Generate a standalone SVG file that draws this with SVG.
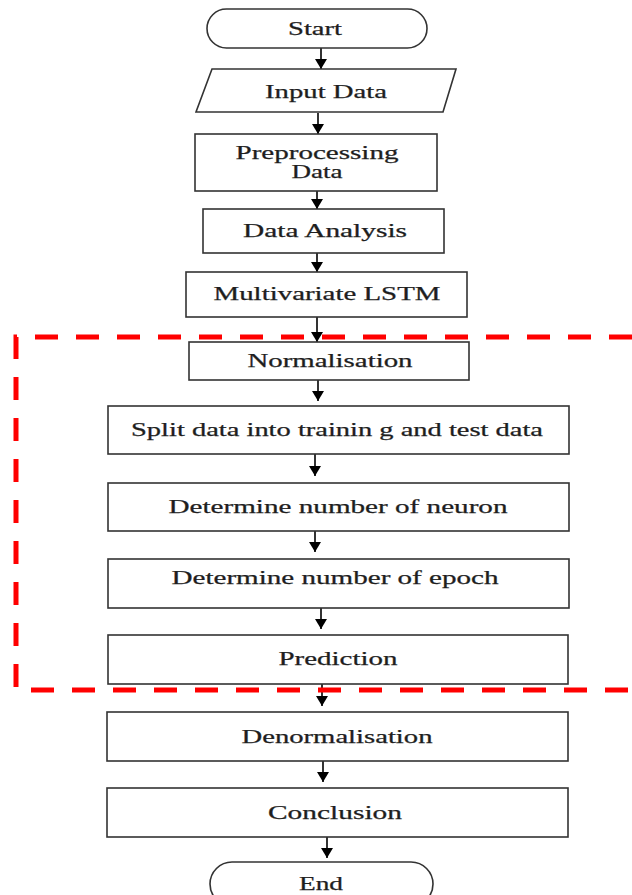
<svg xmlns="http://www.w3.org/2000/svg" width="632" height="895" viewBox="0 0 632 895">
<style>
.box{fill:#fff;stroke:#333;stroke-width:1.6}
.t{font-family:"Liberation Serif","Times New Roman",serif;font-size:18px;fill:#1e1e1e;stroke:#1e1e1e;stroke-width:0.25;text-anchor:middle}
.c{stroke:#000;stroke-width:1.6;fill:none;marker-end:url(#ah)}
.red{fill:none;stroke:#ff0000;stroke-width:5;stroke-dasharray:23 18}
</style>
<defs>
<marker id="ah" markerUnits="userSpaceOnUse" markerWidth="10" markerHeight="12" refX="10" refY="6" orient="auto">
<path d="M0,0 L10,6 L0,12 z" fill="#000"/>
</marker>
</defs>
<rect width="632" height="895" fill="#fff"/>
<g id="connectors">
<line class="c" x1="321" y1="48" x2="321" y2="69"/>
<line class="c" x1="318" y1="113" x2="318" y2="134"/>
<line class="c" x1="317" y1="191" x2="317" y2="209"/>
<line class="c" x1="317" y1="253" x2="317" y2="272"/>
<line class="c" x1="317" y1="317" x2="317" y2="342"/>
<line class="c" x1="318" y1="380" x2="318" y2="401"/>
<line class="c" x1="315" y1="454" x2="315" y2="476"/>
<line class="c" x1="315" y1="531" x2="315" y2="552"/>
<line class="c" x1="321" y1="608" x2="321" y2="629"/>
<line class="c" x1="322" y1="684" x2="322" y2="706"/>
<line class="c" x1="323" y1="761" x2="323" y2="782"/>
<line class="c" x1="327" y1="837" x2="327" y2="858"/>
</g>
<g id="start"><rect class="box" x="207" y="9" width="220" height="39" rx="19.5"/><text class="t" x="315" y="35" textLength="54" lengthAdjust="spacingAndGlyphs">Start</text></g>
<g id="input"><polygon class="box" points="212,69 456,69 443,112 196,112"/><text class="t" x="326" y="98" textLength="122" lengthAdjust="spacingAndGlyphs">Input Data</text></g>
<g id="preprocessing"><rect class="box" x="195" y="134" width="242" height="57"/><text class="t" x="317" y="159" textLength="163" lengthAdjust="spacingAndGlyphs">Preprocessing</text><text class="t" x="317" y="178" textLength="51" lengthAdjust="spacingAndGlyphs">Data</text></g>
<g id="analysis"><rect class="box" x="203" y="209" width="241" height="44"/><text class="t" x="325" y="237" textLength="164" lengthAdjust="spacingAndGlyphs">Data Analysis</text></g>
<g id="lstm"><rect class="box" x="186" y="272" width="281" height="45"/><text class="t" x="327" y="300" textLength="227" lengthAdjust="spacingAndGlyphs">Multivariate LSTM</text></g>
<g id="normalisation"><rect class="box" x="189" y="342" width="280" height="38"/><text class="t" x="330" y="367" textLength="165" lengthAdjust="spacingAndGlyphs">Normalisation</text></g>
<g id="split"><rect class="box" x="108" y="406" width="461" height="48"/><text class="t" x="337" y="436" textLength="412" lengthAdjust="spacingAndGlyphs">Split data into trainin g and test data</text></g>
<g id="neuron"><rect class="box" x="108" y="483" width="461" height="48"/><text class="t" x="338" y="513" textLength="339" lengthAdjust="spacingAndGlyphs">Determine number of neuron</text></g>
<g id="epoch"><rect class="box" x="108" y="559" width="461" height="49"/><text class="t" x="335" y="584" textLength="327" lengthAdjust="spacingAndGlyphs">Determine number of epoch</text></g>
<g id="prediction"><rect class="box" x="108" y="635" width="460" height="49"/><text class="t" x="338" y="665" textLength="119" lengthAdjust="spacingAndGlyphs">Prediction</text></g>
<g id="denormalisation"><rect class="box" x="107" y="712" width="461" height="49"/><text class="t" x="337" y="743" textLength="191" lengthAdjust="spacingAndGlyphs">Denormalisation</text></g>
<g id="conclusion"><rect class="box" x="107" y="788" width="461" height="49"/><text class="t" x="335" y="819" textLength="134" lengthAdjust="spacingAndGlyphs">Conclusion</text></g>
<g id="end"><rect class="box" x="210" y="862" width="223" height="44" rx="22"/><text class="t" x="321" y="890" textLength="44" lengthAdjust="spacingAndGlyphs">End</text></g>
<g id="region"><path class="red" d="M632,337 H16 V690 H632"/></g>
</svg>
